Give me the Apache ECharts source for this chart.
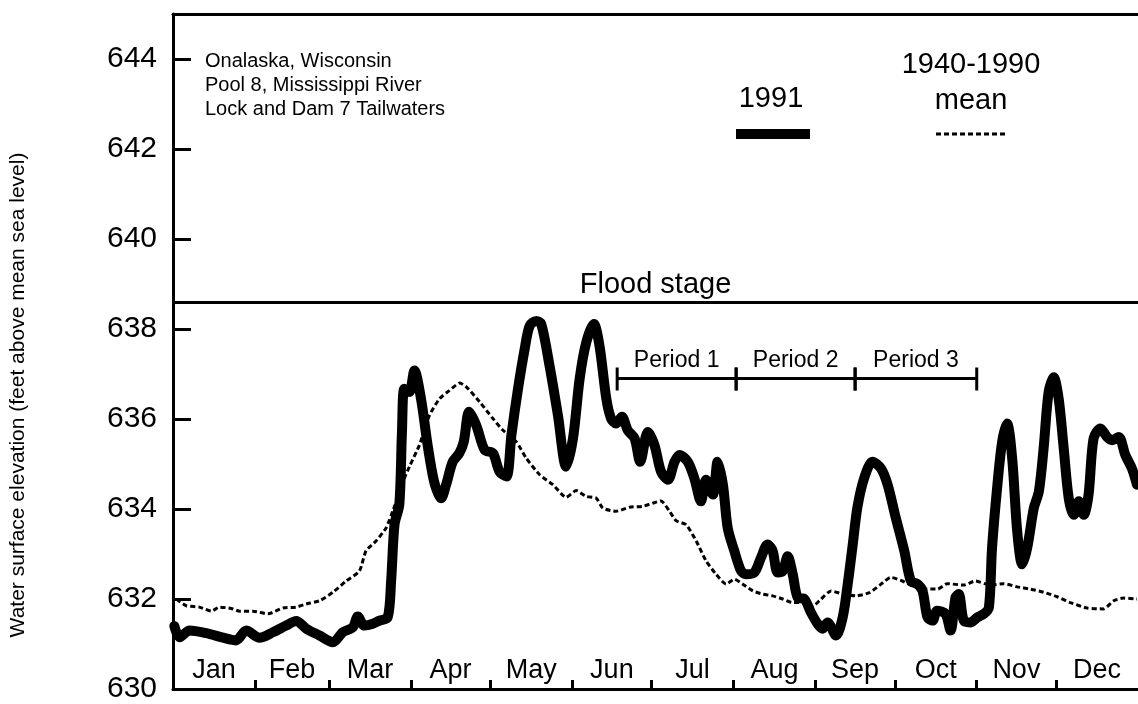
<!DOCTYPE html>
<html>
<head>
<meta charset="utf-8">
<title>Onalaska water surface elevation 1991</title>
<script src="https://cdn.jsdelivr.net/npm/echarts@6.0.0/dist/echarts.min.js"></script>
<style>
  html, body { margin: 0; padding: 0; background: #fff; }
  #main { width: 1138px; height: 704px; }
</style>
</head>
<body>
<div id="main"></div>
<script>
// months along the bottom (day-of-year axis)
var months = ['Jan', 'Feb', 'Mar', 'Apr', 'May', 'Jun', 'Jul', 'Aug', 'Sep', 'Oct', 'Nov', 'Dec'];
var monthDays = [31, 28, 31, 30, 31, 30, 31, 31, 30, 31, 30, 31];
var yTicks = [630, 632, 634, 636, 638, 640, 642, 644];

// 1991 daily stage (day of year, feet)
var days1991 = [0.5, 2.5, 6.3, 12.6, 18.9, 23.9, 27.7, 32.7, 37.8, 42.8, 46.6, 50.4, 55.4, 60.5, 64.2, 68, 69.9, 72.4, 75.6, 78.1,
  81.2, 82.5, 83.8, 85.6, 86.6, 87.5, 89.4, 91.3, 93.8, 96.3, 98.2, 99.5, 101.4, 103.3, 105.8, 108.3, 110, 112, 114.7, 117.9,
  121, 123.5, 126.1, 128, 130.5, 133, 134.9, 137.4, 139.3, 142.4, 145.6, 148.7, 151.3, 153.8, 156.3, 159.2, 161.3, 163.9, 165.7, 167.6,
  169.8, 172, 174.6, 176.7, 179.6, 182.1, 184.6, 187.2, 189.7, 191.6, 194.7, 197.2, 199.7, 201.6, 204.2, 206, 208, 209.8, 212.3, 214.9,
  216.8, 219.9, 222.4, 224.9, 226.8, 228.7, 230.6, 232.5, 234.4, 236.3, 238.8, 241.3, 243.8, 245.7, 247.6, 250.8, 253.3, 255.2, 257.1, 258.9,
  261.5, 264.6, 267.8, 270.3, 273.4, 276.6, 279.1, 281.6, 283.5, 285.4, 287.3, 289, 292.2, 294.1, 296, 297.2, 299.1, 301.6, 304.2, 306.7,
  308.6, 309.8, 311.7, 313.6, 315.5, 317.4, 319.3, 321.2, 323.1, 325.6, 327.5, 329.3, 331.2, 333.1, 335, 336.9, 338.8, 340.7, 342.6, 344.5,
  346.3, 348.2, 350.8, 353.3, 355.2, 357.7, 360.2, 362.7, 364.6];
var elev1991 = [631.40, 631.15, 631.30, 631.24, 631.14, 631.08, 631.30, 631.14, 631.26, 631.41, 631.51, 631.34, 631.19, 631.04, 631.26, 631.37, 631.61, 631.41, 631.45, 631.52,
  631.59, 632.40, 633.66, 634.10, 635.71, 636.67, 636.60, 637.08, 636.45, 635.42, 634.76, 634.46, 634.24, 634.54, 635.05, 635.24, 635.50, 636.16, 635.86, 635.31,
  635.24, 634.83, 634.72, 635.64, 636.67, 637.55, 638.07, 638.18, 638.11, 637.19, 636.08, 634.94, 635.57, 636.89, 637.70, 638.11, 637.63, 636.45, 636.01, 635.90,
  636.05, 635.75, 635.57, 635.05, 635.71, 635.42, 634.83, 634.65, 635.05, 635.20, 635.05, 634.68, 634.17, 634.65, 634.32, 635.05, 634.54, 633.58, 633.07, 632.62,
  632.55, 632.59, 632.92, 633.21, 633.07, 632.59, 632.62, 632.95, 632.55, 632.03, 632.00, 631.70, 631.45, 631.34, 631.48, 631.19, 631.59, 632.33, 633.21, 634.05,
  634.70, 635.05, 634.90, 634.54, 633.80, 633.07, 632.40, 632.33, 632.18, 631.59, 631.52, 631.74, 631.67, 631.30, 632.04, 632.11, 631.52, 631.48, 631.59, 631.67,
  631.81, 633.14, 634.46, 635.49, 635.90, 635.13, 633.51, 632.77, 633.14, 634.02, 634.39, 635.35, 636.60, 636.93, 636.45, 635.35, 634.24, 633.87, 634.17, 633.87,
  634.32, 635.57, 635.79, 635.60, 635.53, 635.60, 635.20, 634.90, 634.54];

// 1940-1990 mean stage
var daysMean = [1.3, 5, 10, 14.5, 17.6, 22, 25.2, 30.2, 35.9, 41.6, 46.6, 50.4, 55.4, 60.5, 65.5, 70.5, 73, 76.8, 80.6, 83.1,
  87.5, 89.4, 93.2, 97, 100.8, 104.5, 108.5, 111, 116, 121, 124.8, 129.9, 133.6, 138.7, 143.7, 148.7, 152.5, 156.3, 160.1, 162.6,
  167.6, 172.7, 177.7, 181.5, 184.6, 187.8, 190.3, 194.1, 197.9, 201.6, 205.4, 209.2, 212.3, 215.5, 219.3, 223, 226.8, 230.6, 234.4, 238.2,
  241.3, 244.5, 248.9, 253.3, 258.3, 263.4, 267.8, 271.5, 275.9, 279.7, 284.8, 289.2, 292.8, 299.1, 303.5, 309.2, 314.2, 319.3, 324.3, 329.3,
  334.4, 339.4, 345.7, 352, 355.8, 359.5, 364.6];
var elevMean = [632.00, 631.85, 631.82, 631.73, 631.82, 631.79, 631.73, 631.73, 631.67, 631.80, 631.82, 631.89, 631.96, 632.15, 632.40, 632.62, 633.07, 633.29, 633.58, 633.95,
  634.68, 634.94, 635.42, 636.08, 636.45, 636.63, 636.80, 636.71, 636.38, 636.01, 635.75, 635.49, 635.13, 634.76, 634.54, 634.26, 634.41, 634.28, 634.24, 634.02,
  633.95, 634.04, 634.06, 634.13, 634.18, 633.95, 633.74, 633.65, 633.29, 632.85, 632.55, 632.33, 632.44, 632.33, 632.18, 632.11, 632.07, 632.00, 631.92, 631.92,
  631.81, 631.96, 632.18, 632.11, 632.07, 632.14, 632.33, 632.48, 632.40, 632.29, 632.22, 632.22, 632.34, 632.31, 632.40, 632.31, 632.34, 632.27, 632.22, 632.15,
  632.05, 631.92, 631.80, 631.78, 631.96, 632.02, 632.00];

var floodStage = 638.6;

// study periods
var periodStart = [168, 213, 258];
var periodEnd = [213, 258, 304];
var periodNames = ['Period 1', 'Period 2', 'Period 3'];
var periodLevel = 636.9;

var FONT = '"Liberation Sans", Arial, Helvetica, sans-serif';

// month boundaries and midpoints from month lengths
var monthEnds = [], monthMids = [];
var acc = 0;
for (var i = 0; i < monthDays.length; i++) {
  monthMids.push(acc + monthDays[i] / 2);
  acc += monthDays[i];
  if (i < monthDays.length - 1) monthEnds.push(acc);
}

function pairs(xs, ys) {
  return xs.map(function (x, i) { return [x, ys[i]]; });
}

var chart = echarts.init(document.getElementById('main'), null, { renderer: 'canvas' });

var option = {
  animation: false,
  backgroundColor: '#fff',
  textStyle: { fontFamily: FONT, color: '#000' },
  grid: { left: 173, top: 14, width: 966, height: 678, containLabel: false },
  xAxis: [{
    type: 'value', min: 0, max: 365, position: 'bottom',
    splitLine: { show: false },
    axisLine: { show: true, onZero: false, lineStyle: { color: '#000', width: 3 } },
    axisTick: { show: true, inside: true, length: 9, customValues: monthEnds, lineStyle: { color: '#000', width: 3 } },
    axisLabel: {
      inside: true, customValues: monthMids, margin: 5,
      fontSize: 27, fontFamily: FONT, color: '#000',
      formatter: function (v) { return months[monthMids.indexOf(v)] || ''; }
    }
  }, {
    // top border
    type: 'value', min: 0, max: 365, position: 'top',
    splitLine: { show: false },
    axisLine: { show: true, onZero: false, lineStyle: { color: '#000', width: 3 } },
    axisTick: { show: false },
    axisLabel: { show: false }
  }],
  yAxis: {
    type: 'value', min: 630, max: 645,
    splitLine: { show: false },
    axisLine: { show: true, onZero: false, lineStyle: { color: '#000', width: 3 } },
    axisTick: { show: true, inside: true, length: 18, customValues: yTicks, lineStyle: { color: '#000', width: 3 } },
    axisLabel: { customValues: yTicks, margin: 16, fontSize: 30, fontFamily: FONT, color: '#000' }
  },
  series: [{
    name: '1940-1990 mean',
    type: 'line',
    data: pairs(daysMean, elevMean),
    showSymbol: false,
    smooth: 0.2,
    z: 2,
    lineStyle: { color: '#000', width: 3, type: [5, 3] }
  }, {
    name: '1991',
    type: 'line',
    data: pairs(days1991, elev1991),
    showSymbol: false,
    smooth: 0.3,
    z: 3,
    lineStyle: { color: '#000', width: 10, cap: 'round', join: 'round' },
    markLine: {
      silent: true,
      symbol: 'none',
      data: [{ yAxis: floodStage }],
      lineStyle: { color: '#000', width: 3, type: 'solid' },
      label: { show: true, position: 'middle', formatter: 'Flood stage', fontSize: 29, fontFamily: FONT, color: '#000', distance: 3 }
    }
  }, {
    name: 'periods',
    type: 'custom',
    silent: true,
    z: 4,
    data: periodStart.map(function (s, i) { return [s, periodEnd[i], periodLevel]; }),
    renderItem: function (params, api) {
      var a = api.coord([api.value(0), api.value(2)]);
      var b = api.coord([api.value(1), api.value(2)]);
      var st = { stroke: '#000', lineWidth: 3 };
      return {
        type: 'group',
        children: [
          { type: 'line', shape: { x1: a[0], y1: a[1], x2: b[0], y2: b[1] }, style: st },
          { type: 'line', shape: { x1: a[0], y1: a[1] - 11, x2: a[0], y2: a[1] + 12 }, style: st },
          { type: 'line', shape: { x1: b[0], y1: b[1] - 11, x2: b[0], y2: b[1] + 12 }, style: st },
          {
            type: 'text',
            x: (a[0] + b[0]) / 2, y: a[1] - 18,
            style: {
              text: periodNames[params.dataIndex], fill: '#000',
              font: '23px ' + FONT, align: 'center', verticalAlign: 'middle'
            }
          }
        ]
      };
    }
  }],
  graphic: [{
    type: 'text', x: 18, y: 395, rotation: Math.PI / 2,
    style: {
      text: 'Water surface elevation (feet above mean sea level)',
      font: '21px ' + FONT, fill: '#000', align: 'center', verticalAlign: 'middle'
    }
  }, {
    type: 'text', x: 205, y: 49,
    style: {
      text: 'Onalaska, Wisconsin\nPool 8, Mississippi River\nLock and Dam 7 Tailwaters',
      font: '20px ' + FONT, lineHeight: 24, fill: '#000', align: 'left', verticalAlign: 'top'
    }
  }, {
    // legend: 1991
    type: 'text', x: 771, y: 99,
    style: { text: '1991', font: '29px ' + FONT, fill: '#000', align: 'center', verticalAlign: 'middle' }
  }, {
    type: 'line', shape: { x1: 736, y1: 134, x2: 810, y2: 134 },
    style: { stroke: '#000', lineWidth: 10 }
  }, {
    // legend: mean
    type: 'text', x: 971, y: 83,
    style: { text: '1940-1990\nmean', font: '29px ' + FONT, lineHeight: 36, fill: '#000', align: 'center', verticalAlign: 'middle' }
  }, {
    type: 'line', shape: { x1: 936, y1: 134, x2: 1007, y2: 134 },
    style: { stroke: '#000', lineWidth: 3, lineDash: [5, 3] }
  }]
};

chart.setOption(option);
</script>
</body>
</html>
